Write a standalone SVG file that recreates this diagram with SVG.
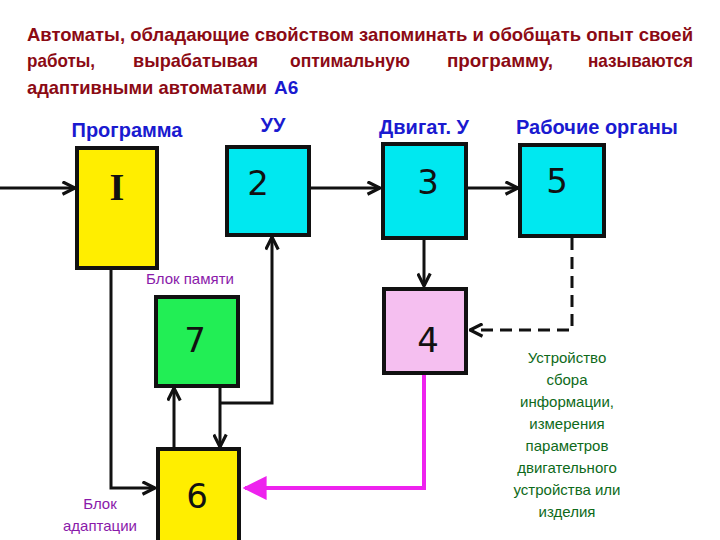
<svg xmlns="http://www.w3.org/2000/svg" width="720" height="540" viewBox="0 0 720 540">
<style>
.t{font-family:"Liberation Sans",Arial,sans-serif;font-weight:bold;font-size:19px;fill:#8b0a14;}
.h{font-family:"Liberation Sans",Arial,sans-serif;font-weight:bold;font-size:20px;fill:#1a1ad0;text-anchor:middle;}
.p{font-family:"Liberation Sans",Arial,sans-serif;font-size:15px;fill:#8a1aaa;text-anchor:middle;}
.g{font-family:"Liberation Sans",Arial,sans-serif;font-size:15px;fill:#0e6a1a;text-anchor:middle;}
.n{font-family:"DejaVu Sans",sans-serif;font-size:34px;fill:#111;text-anchor:middle;}
.b{stroke:#111;stroke-width:4;}
.c{fill:none;stroke:#111;stroke-width:3;}
</style>
<defs>
<marker id="a" viewBox="0 0 12 12" refX="11" refY="6" markerWidth="5" markerHeight="5" orient="auto" markerUnits="strokeWidth"><path d="M1,1 L11,6 L1,11" fill="none" stroke="#111" stroke-width="2.5"/></marker>
<marker id="m" viewBox="0 0 10 10" refX="9" refY="5" markerWidth="6" markerHeight="6" orient="auto" markerUnits="strokeWidth"><path d="M0,0 L10,5 L0,10 Z" fill="#ee22ee"/></marker>
</defs>
<rect width="720" height="540" fill="#fff"/>
<g id="title">
<text class="t" x="27" y="41" textLength="666" lengthAdjust="spacingAndGlyphs">Автоматы, обладающие свойством запоминать и обобщать опыт своей</text>
<text class="t" x="27" y="67" textLength="68" lengthAdjust="spacingAndGlyphs">работы,</text>
<text class="t" x="133" y="67" textLength="125" lengthAdjust="spacingAndGlyphs">вырабатывая</text>
<text class="t" x="290" y="67" textLength="120" lengthAdjust="spacingAndGlyphs">оптимальную</text>
<text class="t" x="447" y="67" textLength="106" lengthAdjust="spacingAndGlyphs">программу,</text>
<text class="t" x="588" y="67" textLength="105" lengthAdjust="spacingAndGlyphs">называются</text>
<text class="t" x="27" y="94" textLength="240" lengthAdjust="spacingAndGlyphs">адаптивными автоматами</text>
<text class="t" x="274" y="94" fill="#1a1ad0" style="fill:#1a1ad0">А6</text>
</g>
<g id="labels">
<text class="h" x="127" y="137">Программа</text>
<text class="h" x="273" y="132">УУ</text>
<text class="h" x="424" y="134">Двигат. У</text>
<text class="h" x="597" y="134">Рабочие органы</text>
<text class="p" x="190" y="284">Блок памяти</text>
<text class="p" x="100" y="509">Блок</text>
<text class="p" x="100" y="531">адаптации</text>
<text class="g"><tspan x="567" y="363">Устройство</tspan><tspan x="567" y="385">сбора</tspan><tspan x="567" y="407">информации,</tspan><tspan x="567" y="429">измерения</tspan><tspan x="567" y="451">параметров</tspan><tspan x="567" y="473">двигательного</tspan><tspan x="567" y="495">устройства или</tspan><tspan x="567" y="517">изделия</tspan></text>
</g>
<g id="connectors">
<line class="c" x1="0" y1="188" x2="75" y2="188" marker-end="url(#a)"/>
<line class="c" x1="311" y1="188" x2="380" y2="188" marker-end="url(#a)"/>
<line class="c" x1="468" y1="188" x2="518" y2="188" marker-end="url(#a)"/>
<polyline class="c" points="111,270 111,488 155,488" marker-end="url(#a)"/>
<polyline class="c" points="220,388 220,447" marker-end="url(#a)"/>
<polyline class="c" points="220,403 272,403 272,237" marker-end="url(#a)"/>
<line class="c" x1="174" y1="447" x2="174" y2="388" marker-end="url(#a)"/>
<line class="c" x1="424" y1="240" x2="424" y2="286" marker-end="url(#a)"/>
<polyline class="c" points="572,238 572,330 470,330" stroke-dasharray="12,7" marker-end="url(#a)"/>
<polyline points="424,375 424,488 245,488" fill="none" stroke="#ee22ee" stroke-width="4" marker-end="url(#m)"/>
</g>
<g id="n1"><rect class="b" x="77" y="148" width="80" height="120" fill="#ffee00"/><text x="117" y="200" font-family="Liberation Serif,serif" font-size="38" font-weight="bold" text-anchor="middle" fill="#111">I</text></g>
<g id="n2"><rect class="b" x="227" y="147" width="82" height="88" fill="#00e8f0"/><text class="n" x="258" y="195">2</text></g>
<g id="n3"><rect class="b" x="383" y="144" width="83" height="94" fill="#00e8f0"/><text class="n" x="428" y="194">3</text></g>
<g id="n5"><rect class="b" x="520" y="145" width="84" height="91" fill="#00e8f0"/><text class="n" x="557" y="193">5</text></g>
<g id="n7"><rect class="b" x="156" y="297" width="82" height="89" fill="#22ee55"/><text class="n" x="195" y="352">7</text></g>
<g id="n4"><rect class="b" x="384" y="289" width="82" height="84" fill="#f5bff0"/><text class="n" x="428" y="352">4</text></g>
<g id="n6"><rect class="b" x="158" y="449" width="81" height="93" fill="#ffee00"/><text class="n" x="197" y="508">6</text></g>
</svg>
